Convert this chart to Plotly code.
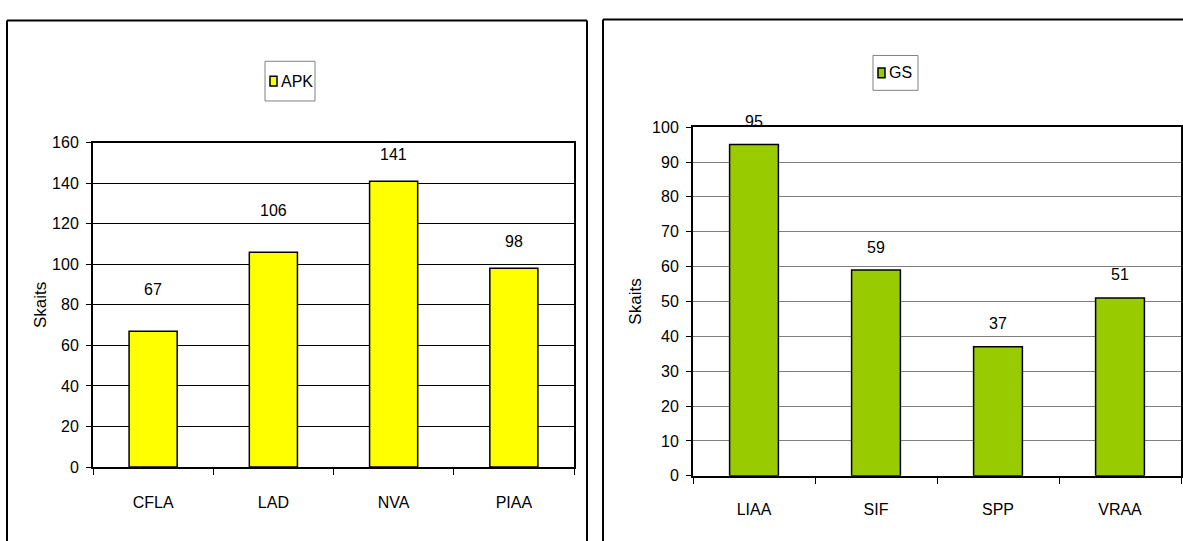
import plotly.graph_objects as go

# Agency counts, left panel (APK)
apk_categories = ["CFLA", "LAD", "NVA", "PIAA"]
apk_values = [67, 106, 141, 98]

# Agency counts, right panel (GS)
gs_categories = ["LIAA", "SIF", "SPP", "VRAA"]
gs_values = [95, 59, 37, 51]

y_title = "Skaits"

W, H = 1183, 541
FONT = "Liberation Sans"


def px(x):
    return x / W


def py(y):
    return 1 - y / H


fig = go.Figure()

fig.add_trace(go.Bar(
    x=apk_categories, y=apk_values, name="APK", width=0.4,
    marker=dict(color="#FFFF00", line=dict(color="black", width=1.5)),
    xaxis="x", yaxis="y", showlegend=False,
))
fig.add_trace(go.Bar(
    x=gs_categories, y=gs_values, name="GS", width=0.4,
    marker=dict(color="#99CC00", line=dict(color="black", width=1.5)),
    xaxis="x2", yaxis="y2", showlegend=False,
))

axis_font = dict(family=FONT, size=16, color="black")
title_font = dict(family=FONT, size=17, color="black")

fig.update_layout(
    width=W, height=H,
    margin=dict(l=0, r=0, t=0, b=0),
    paper_bgcolor="white", plot_bgcolor="white",
    font=axis_font,
    xaxis=dict(
        domain=[px(93), px(574)], anchor="y", type="category",
        tickson="boundaries", ticks="outside", ticklen=6, tickcolor="black",
        showgrid=False, showline=True, mirror=True, linecolor="black", linewidth=2,
        tickfont=axis_font, ticklabelstandoff=20,
    ),
    yaxis=dict(
        domain=[py(474), py(139)], anchor="x", range=[0, 160], dtick=20,
        ticks="outside", ticklen=5, tickcolor="black",
        showgrid=True, gridcolor="black", gridwidth=1,
        showline=True, mirror=True, linecolor="black", linewidth=2,
        zeroline=False, tickfont=axis_font, ticklabelstandoff=4,
        title=dict(text=y_title, font=title_font, standoff=1),
    ),
    xaxis2=dict(
        domain=[px(693), px(1181)], anchor="y2", type="category",
        tickson="boundaries", ticks="outside", ticklen=6, tickcolor="black",
        showgrid=False, showline=True, mirror=True, linecolor="black", linewidth=2,
        tickfont=axis_font, ticklabelstandoff=18,
    ),
    yaxis2=dict(
        domain=[py(483), py(123)], anchor="x2", range=[0, 100], dtick=10,
        ticks="outside", ticklen=5, tickcolor="black",
        showgrid=True, gridcolor="#808080", gridwidth=1,
        showline=True, mirror=True, linecolor="black", linewidth=2,
        zeroline=False, tickfont=axis_font, ticklabelstandoff=4,
        title=dict(text=y_title, font=title_font, standoff=6),
    ),
)

# Value labels above the bars
apk_label_shift = [42, 42, 27, 27]
for cat, val, shift in zip(apk_categories, apk_values, apk_label_shift):
    fig.add_annotation(x=cat, y=val, xref="x", yref="y", text=str(val),
                       showarrow=False, yshift=shift, yanchor="middle",
                       font=axis_font)
for cat, val in zip(gs_categories, gs_values):
    fig.add_annotation(x=cat, y=val, xref="x2", yref="y2", text=str(val),
                       showarrow=False, yshift=23, yanchor="middle",
                       font=axis_font)

shapes = []
# Chart area frames
frame = dict(color="black", width=2)
for x0, x1, top, right_edge in [(7, 587, 13, True), (603, 1190, 12, False)]:
    shapes.append(dict(type="line", xref="paper", yref="paper",
                       x0=px(x0), x1=px(x1), y0=py(top), y1=py(top), line=frame))
    shapes.append(dict(type="line", xref="paper", yref="paper",
                       x0=px(x0), x1=px(x0), y0=py(top), y1=py(560), line=frame))
    if right_edge:
        shapes.append(dict(type="line", xref="paper", yref="paper",
                           x0=px(x1), x1=px(x1), y0=py(top), y1=py(560), line=frame))


# Legend boxes
def legend_box(x0, y0, x1, y1, color, label):
    shapes.append(dict(type="rect", xref="paper", yref="paper",
                       x0=px(x0), x1=px(x1), y0=py(y1), y1=py(y0),
                       line=dict(color="#808080", width=1), fillcolor="white"))
    cy = (y0 + y1) / 2
    shapes.append(dict(type="rect", xref="paper", yref="paper",
                       x0=px(x0 + 5), x1=px(x0 + 12), y0=py(cy + 5), y1=py(cy - 5),
                       line=dict(color="black", width=1.5), fillcolor=color))
    fig.add_annotation(x=px(x0 + 14), y=py(cy), xref="paper", yref="paper",
                       text=label, showarrow=False, xanchor="left", yanchor="middle",
                       font=dict(family=FONT, size=16, color="black"))


legend_box(265, 55, 315, 96, "#FFFF00", "APK")
legend_box(873, 49, 918, 85, "#99CC00", "GS")

fig.update_layout(shapes=shapes)

fig.write_html("out.html")
